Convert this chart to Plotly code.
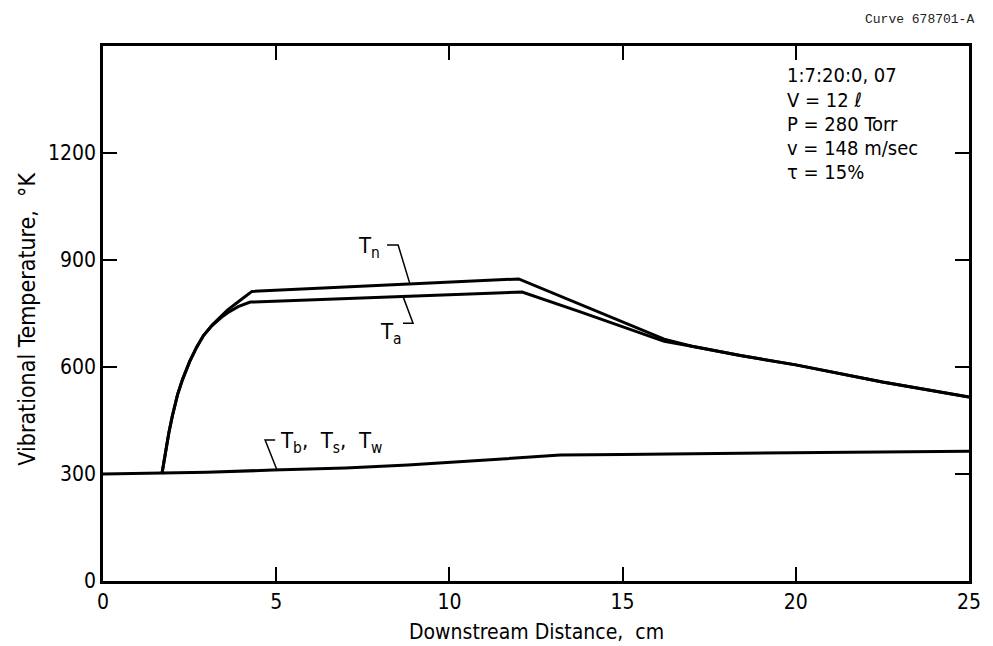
import plotly.graph_objects as go

# Downstream distance (cm) and vibrational temperatures (K)
x_tn = [1.7, 1.8, 1.9, 2.0, 2.15, 2.3, 2.5, 2.7, 2.9, 3.15, 3.4, 3.6, 4.0, 4.3,
        12.0, 13.8, 15.0, 16.2, 17.0, 18.4, 20.0, 22.5, 25.0]
t_n = [300, 360, 415, 462, 522, 566, 615, 655, 688, 718, 743, 760, 790, 812,
       847, 774, 726, 678, 658, 632, 606, 558, 516]

x_ta = [1.7, 1.8, 1.9, 2.0, 2.15, 2.3, 2.5, 2.7, 2.9, 3.15, 3.4, 3.6, 3.9, 4.25,
        12.1, 13.8, 15.0, 16.2, 17.0, 18.4, 20.0, 22.5, 25.0]
t_a = [300, 360, 415, 462, 522, 566, 615, 655, 688, 716, 738, 752, 769, 782,
       810, 754, 712, 672, 658, 632, 606, 558, 516]

x_b = [0, 1.7, 3.0, 4.9, 7.0, 8.8, 11.0, 13.2, 15.0, 18.4, 22.0, 25.0]
t_b = [300, 302, 305, 311, 317, 325, 340, 353, 355, 358, 361, 364]

x_ticks = [0, 5, 10, 15, 20, 25]
y_ticks = [0, 300, 600, 900, 1200]

conditions = ["1:7:20:0, 07", "V = 12 \u2113", "P = 280 Torr", "v = 148 m/sec", "\u03c4 = 15%"]
cond_y = [1419, 1349, 1281, 1214, 1147]

FONT = "Liberation Sans Narrow, DejaVu Sans Condensed, Arial Narrow, sans-serif"
LINE = dict(color="black", width=3)

fig = go.Figure()
for xs, ys, name in [(x_b, t_b, "Tb, Ts, Tw"), (x_ta, t_a, "Ta"), (x_tn, t_n, "Tn")]:
    fig.add_trace(go.Scatter(x=xs, y=ys, mode="lines", line=LINE, name=name,
                             showlegend=False, hoverinfo="skip"))

# leader lines tying each label to its curve
leaders = [
    ([8.20, 8.52, 8.86], [942, 942, 833]),
    ([8.66, 8.95, 8.66], [798, 723, 723]),
    ([5.02, 4.68, 4.97], [312, 395, 395]),
]
for lx, ly in leaders:
    path = "M {} {} L {} {} L {} {}".format(lx[0], ly[0], lx[1], ly[1], lx[2], ly[2])
    fig.add_shape(type="path", path=path, xref="x", yref="y",
                  line=dict(color="black", width=1.5))

annots = [
    dict(x=7.3, y=934, text="T<sub>n</sub>", xanchor="left", yanchor="middle"),
    dict(x=7.94, y=695, text="T<sub>a</sub>", xanchor="left", yanchor="middle"),
    dict(x=5.05, y=387, text="T<sub>b</sub>,  T<sub>s</sub>,  T<sub>w</sub>", xanchor="left", yanchor="middle"),
]
for a in annots:
    fig.add_annotation(**a, xref="x", yref="y", showarrow=False,
                       font=dict(family=FONT, size=22, color="black"))

for txt, yy in zip(conditions, cond_y):
    fig.add_annotation(x=19.69, y=yy, text=txt, xref="x", yref="y", xanchor="left",
                       yanchor="middle", showarrow=False,
                       font=dict(family=FONT, size=20, color="black"))

fig.add_annotation(x=0.5, y=-0.095, xref="paper", yref="paper", text="Downstream Distance,  cm",
                   showarrow=False, xanchor="center", yanchor="middle",
                   font=dict(family=FONT, size=21, color="black"))
fig.add_annotation(x=-0.088, y=0.49, xref="paper", yref="paper", text="Vibrational Temperature,  \u00b0K",
                   showarrow=False, textangle=-90, xanchor="center", yanchor="middle",
                   font=dict(family=FONT, size=23, color="black"))
fig.add_annotation(x=1.008, y=1.05, xref="paper", yref="paper", text="Curve 678701-A",
                   showarrow=False, xanchor="right", yanchor="middle",
                   font=dict(family="Liberation Mono, DejaVu Sans Mono, monospace", size=13, color="#222"))

axis_common = dict(showline=True, linecolor="black", linewidth=2.5, mirror="ticks",
                   ticks="inside", ticklen=14, tickwidth=2, tickcolor="black",
                   showgrid=False, zeroline=False,
                   tickfont=dict(family=FONT, size=21, color="black"))

fig.update_xaxes(range=[0, 25], tickvals=x_ticks, ticktext=[str(v) for v in x_ticks], **axis_common)
fig.update_yaxes(range=[0, 1500], tickvals=y_ticks, ticktext=[str(v) for v in y_ticks], **axis_common)

fig.update_layout(width=993, height=646, margin=dict(l=103, r=24, t=46, b=65),
                  paper_bgcolor="white", plot_bgcolor="white")

fig.write_html("out.html")
